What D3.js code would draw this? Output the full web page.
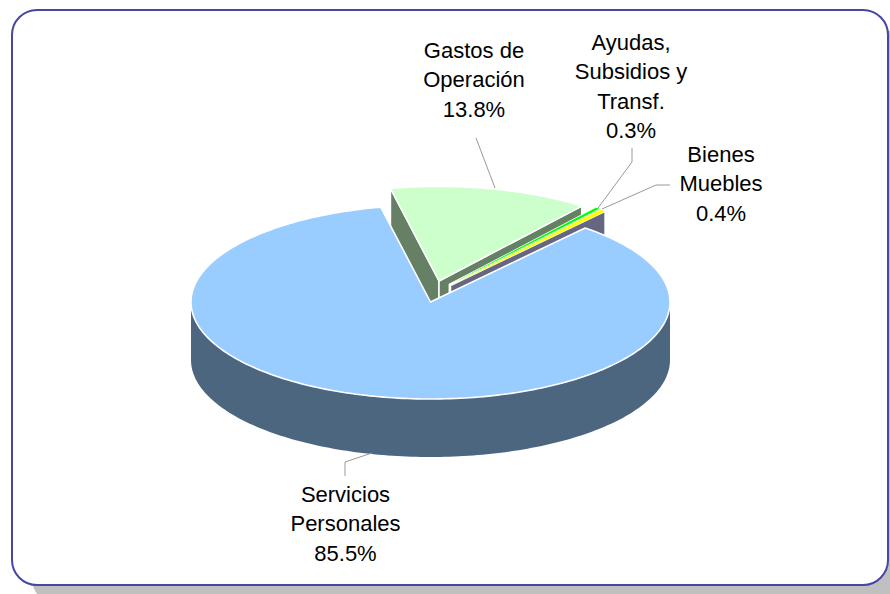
<!DOCTYPE html>
<html>
<head>
<meta charset="utf-8">
<script src="https://d3js.org/d3.v7.min.js"></script>
<style>
html,body{margin:0;padding:0;background:#fff;}
svg{display:block;}
text{font-family:"Liberation Sans",Arial,sans-serif;font-size:22px;fill:#000;text-anchor:middle;}
</style>
</head>
<body>
<svg id="c" width="890" height="594"></svg>
<script>
const categories = ["Servicios Personales","Gastos de Operación","Ayudas, Subsidios y Transf.","Bienes Muebles"];
const values = [85.5,13.8,0.3,0.4];
const labelLines = [["Servicios","Personales"],["Gastos de","Operación"],["Ayudas,","Subsidios y","Transf."],["Bienes","Muebles"]];
const topColors = ["#99CCFF","#CCFFCC","#00FF00","#FFFF00"];
const sideColors = ["#4D6680","#668066","#008000","#666680"];

// layout
const W=890,H=594,cx=430.5,cy=302,rx=239.5,ry=97,depth=58;
const startDeg=40.2;
const explode=[[0,0,1],[8.5,-21,0.975],[19,-17.5,1],[20,-16.5,1]];
const labelPos=[[345.5,495],[474,51],[631,43],[721,155]];
const leaders=[
  [[345,476],[345,462],[372,453]],
  [[476,138],[495,188]],
  [[632,148],[632,162],[598,208]],
  [[670,185],[656,185],[602,209]]
];

const svg=d3.select("#c");
svg.append("rect").attr("x",32).attr("y",30).attr("width",876).attr("height",574).attr("rx",25).attr("fill","#C0C0C0");
svg.append("rect").attr("x",12).attr("y",10).attr("width",876).attr("height",575).attr("rx",25)
  .attr("fill","#fff").attr("stroke","#4646A6").attr("stroke-width",2);

const pie=d3.pie().sort(null).startAngle(startDeg*Math.PI/180).endAngle((startDeg+360)*Math.PI/180);
const arcs=pie(values);
const line=d3.line();

function pt(i,a,dz){
  const e=explode[i];
  return [cx+e[0]+rx*e[2]*Math.sin(a), cy+e[1]+ry*e[2]*(-Math.cos(a))+(dz||0)];
}
function apex(i,dz){return [cx+explode[i][0],cy+explode[i][1]+(dz||0)];}
function arcPts(i,a0,a1,dz){
  const n=Math.max(2,Math.ceil(Math.abs(a1-a0)/0.02));
  return d3.range(n+1).map(k=>pt(i,a0+(a1-a0)*k/n,dz));
}
function poly(pts,fill,stroke,sw){
  svg.append("path").attr("d",line(pts)+"Z").attr("fill",fill)
    .attr("stroke",stroke||"none").attr("stroke-width",sw||0).attr("stroke-linejoin","round");
}
function cutWall(i,a,fill){
  const p=pt(i,a),q=pt(i,a,depth);
  poly([apex(i),p,q,apex(i,depth)],fill,"#fff",1.5);
}
function outerWall(i,a0,a1){
  const top=arcPts(i,a0,a1,0),bot=arcPts(i,a1,a0,depth);
  poly(top.concat(bot),sideColors[i]);
}

// back slices, far to near
[1,2,3].forEach(i=>{
  const d=arcs[i];
  cutWall(i,d.startAngle,sideColors[i]);
  cutWall(i,d.endAngle,sideColors[i]);
  const top=[apex(i)].concat(arcPts(i,d.startAngle,d.endAngle));
  poly(top,topColors[i],i===1?"#fff":"none",i===1?1.5:0);
});

// main slice: front rim then top
const main=arcs[0];
outerWall(0,Math.PI/2,Math.PI*1.5);
poly([apex(0)].concat(arcPts(0,main.startAngle,main.endAngle)),topColors[0],"#fff",1.6);

// leaders
leaders.forEach(l=>{
  svg.append("path").attr("d",line(l)).attr("fill","none").attr("stroke","#999").attr("stroke-width",1);
});

// labels
const fmt=d3.format(".1f");
categories.forEach((c,i)=>{
  const lines=labelLines[i].concat(fmt(values[i])+"%");
  const t=svg.append("text").attr("x",labelPos[i][0]).attr("y",labelPos[i][1]);
  t.selectAll("tspan").data(lines).join("tspan")
    .attr("x",labelPos[i][0])
    .attr("y",(d,k)=>labelPos[i][1]+7+k*29.3)
    .text(d=>d);
});
</script>
</body>
</html>
